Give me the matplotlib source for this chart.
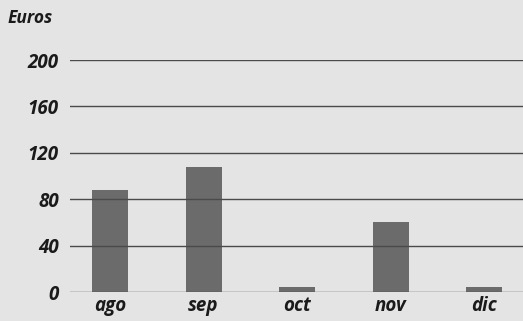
import matplotlib
matplotlib.use("Agg")
import matplotlib.pyplot as plt

months = ["ago", "sep", "oct", "nov", "dic"]
euros = [88, 108, 4, 60, 4]
yticks = [0, 40, 80, 120, 160, 200]

bg = "#e4e4e4"
fig = plt.figure(figsize=(5.23, 3.21), dpi=100, facecolor=bg)
ax = fig.add_axes([70 / 523, 29 / 321, 453 / 523, 232 / 321], facecolor=bg)

x = list(range(len(months)))
ax.bar(x, euros, width=0.385, color="#6b6b6b", zorder=1)

for v in yticks:
    ax.axhline(v, color="#4a4a4a", linewidth=1.0, zorder=2)

ax.set_xlim(-0.428, 4.417)
ax.set_ylim(0, 200)

font = dict(family="Open Sans", style="italic", weight="bold", size=13.5, color="#1a1a1a")

ax.set_yticks(yticks)
ax.set_yticklabels([str(v) for v in yticks], **font)
ax.set_xticks(x)
ax.set_xticklabels(months, **font)
ax.tick_params(axis="y", length=0, pad=8)
ax.tick_params(axis="x", length=0, pad=3)
for s in ax.spines.values():
    s.set_visible(False)

fig.text(8 / 523, 1 - 18 / 321, "Euros", ha="left", va="center",
         family="Open Sans", style="italic", weight="bold", size=12.5, color="#1a1a1a")

fig.savefig("out.png", dpi=100, facecolor=bg)
